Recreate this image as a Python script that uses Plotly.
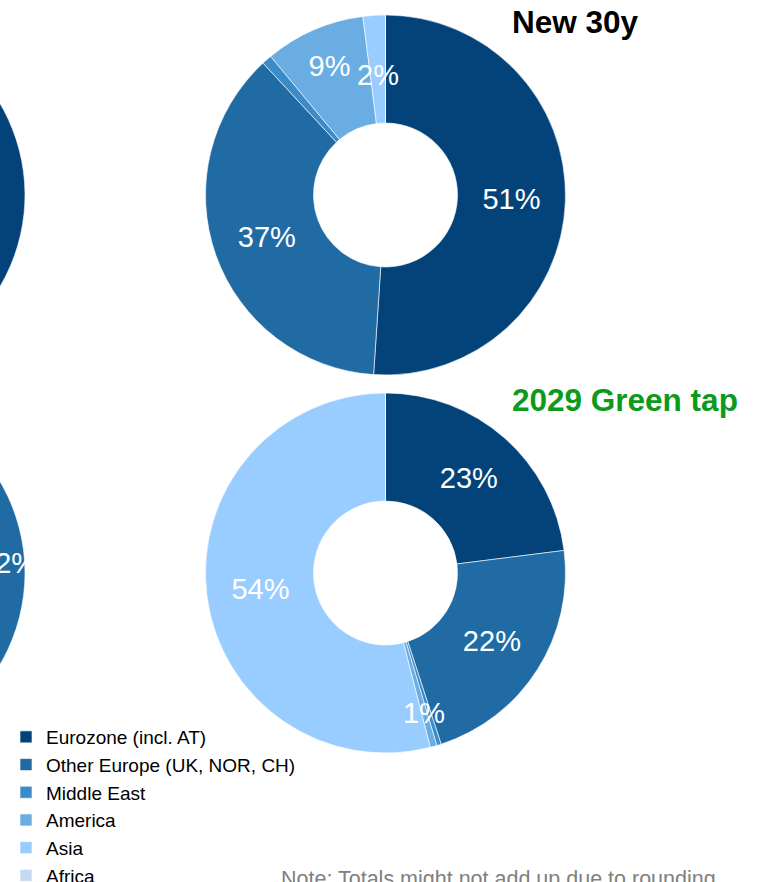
import math
import plotly.graph_objects as go

# Investor distribution by region (shares in %)
regions = ["Eurozone (incl. AT)", "Other Europe (UK, NOR, CH)", "Middle East",
           "America", "Asia", "Africa"]
colors = ["#03437A", "#216BA5", "#3C8BC9", "#6AADE2", "#99CCFF", "#C5D9F1"]

left_top_vals = [61, 24, 2, 9, 3, 1]
left_bottom_vals = [8, 32, 2, 12, 45, 1]
new30y_vals = [51, 37, 0.9, 9, 2, 0]
green_tap_vals = [23, 22, 0.4, 0.6, 54, 0]

new30y_title = "New 30y"
green_tap_title = "2029 Green tap"
note_text = "Note: Totals might not add up due to rounding"

# how each slice is labelled: "in" = inside text, "out" = text set on a
# radial guide (thin slices), None = no label
new30y_label = ["in", "in", None, "in", "out", None]
green_tap_label = ["in", "in", None, "out", "in", None]
left_bottom_label = [None, "out", None, None, None, None]

FONT = "Liberation Sans, Arial, sans-serif"
LABEL_SIZE = 29

# canvas: the visible page is 766 px wide; the figure extends to the left of it
SHIFT = 340
VIEW_W, VIEW_H = 766, 882
W, H = VIEW_W + SHIFT, 920


def fx(x):
    return (x + SHIFT) / W


def fy(y):
    return 1 - y / H


def pct(v):
    return f"{v:.0f}%"


def inside_text(vals, kinds):
    return [pct(v) if k == "in" else "" for v, k in zip(vals, kinds)]


def donut(vals, text, x0, x1, y0, y1, showlegend=False):
    return go.Pie(
        labels=regions, values=vals, text=text, textinfo="text",
        textposition="inside", insidetextorientation="horizontal",
        insidetextfont=dict(family=FONT, size=LABEL_SIZE, color="white"),
        marker=dict(colors=colors, line=dict(color="white", width=0.6)),
        hole=0.4, sort=False, direction="clockwise", rotation=0,
        domain=dict(x=[fx(x0), fx(x1)], y=[fy(y1), fy(y0)]),
        showlegend=showlegend, hoverinfo="label+percent",
    )


R = 180
CX_R, CX_L = 385.5, -155
CY_T, CY_B = 195, 573
no_text = [""] * len(regions)

fig = go.Figure()
fig.add_trace(donut(left_top_vals, no_text,
                    CX_L - R, CX_L + R, CY_T - R, CY_T + R))
fig.add_trace(donut(left_bottom_vals, no_text,
                    CX_L - R, CX_L + R, CY_B - R, CY_B + R))
fig.add_trace(donut(new30y_vals, inside_text(new30y_vals, new30y_label),
                    CX_R - R, CX_R + R, CY_T - R, CY_T + R, showlegend=True))
fig.add_trace(donut(green_tap_vals, inside_text(green_tap_vals, green_tap_label),
                    CX_R - R, CX_R + R, CY_B - R, CY_B + R))


def slice_anchor(vals, idx, cx, cy, frac):
    total = sum(vals)
    mid = (sum(vals[:idx]) + vals[idx] / 2) / total * 2 * math.pi
    return cx + frac * R * math.sin(mid), cy - frac * R * math.cos(mid)


annotations = []


def guide_labels(vals, kinds, cx, cy, fracs):
    for i, k in enumerate(kinds):
        if k != "out":
            continue
        ax, ay = slice_anchor(vals, i, cx, cy, fracs[i])
        annotations.append(dict(
            x=fx(ax), y=fy(ay), xref="paper", yref="paper",
            xanchor="center", yanchor="middle", showarrow=False,
            text=pct(vals[i]),
            font=dict(family=FONT, size=LABEL_SIZE, color="white")))


# radial position (fraction of outer radius) used for guide labels
guide_labels(new30y_vals, new30y_label, CX_R, CY_T,
             [0, 0, 0, 0, 0.667, 0])
guide_labels(green_tap_vals, green_tap_label, CX_R, CY_B,
             [0, 0, 0, 0.805, 0, 0])
guide_labels(left_bottom_vals, left_bottom_label, CX_L, CY_B,
             [0, 0.91, 0, 0, 0, 0])

annotations.append(dict(x=fx(510), y=fy(22), xref="paper", yref="paper",
                        xanchor="left", yanchor="middle", showarrow=False,
                        text=f"<b>{new30y_title}</b>",
                        font=dict(family=FONT, size=31.5, color="black")))
annotations.append(dict(x=fx(510), y=fy(400), xref="paper", yref="paper",
                        xanchor="left", yanchor="middle", showarrow=False,
                        text=f"<b>{green_tap_title}</b>",
                        font=dict(family=FONT, size=31.5, color="#0B9A1B")))
annotations.append(dict(x=fx(279), y=fy(879), xref="paper", yref="paper",
                        xanchor="left", yanchor="middle", showarrow=False,
                        text=note_text,
                        font=dict(family=FONT, size=21.5, color="#808080")))

fig.update_layout(
    width=W, height=H,
    margin=dict(l=0, r=0, t=0, b=0),
    paper_bgcolor="white", plot_bgcolor="white",
    font=dict(family=FONT, color="black"),
    annotations=annotations,
    uniformtext=dict(minsize=LABEL_SIZE, mode="show"),
    legend=dict(x=fx(6), y=fy(718), xanchor="left", yanchor="top",
                font=dict(family=FONT, size=19, color="black"),
                bgcolor="rgba(0,0,0,0)", traceorder="normal"),
)

page_js = (
    "document.documentElement.style.overflow='hidden';"
    "document.body.style.margin='0';document.body.style.overflow='hidden';"
    "var g=document.getElementById('{plot_id}');"
    "g.style.marginLeft='-" + str(SHIFT) + "px';"
)
fig.write_html("out.html", post_script=page_js)
